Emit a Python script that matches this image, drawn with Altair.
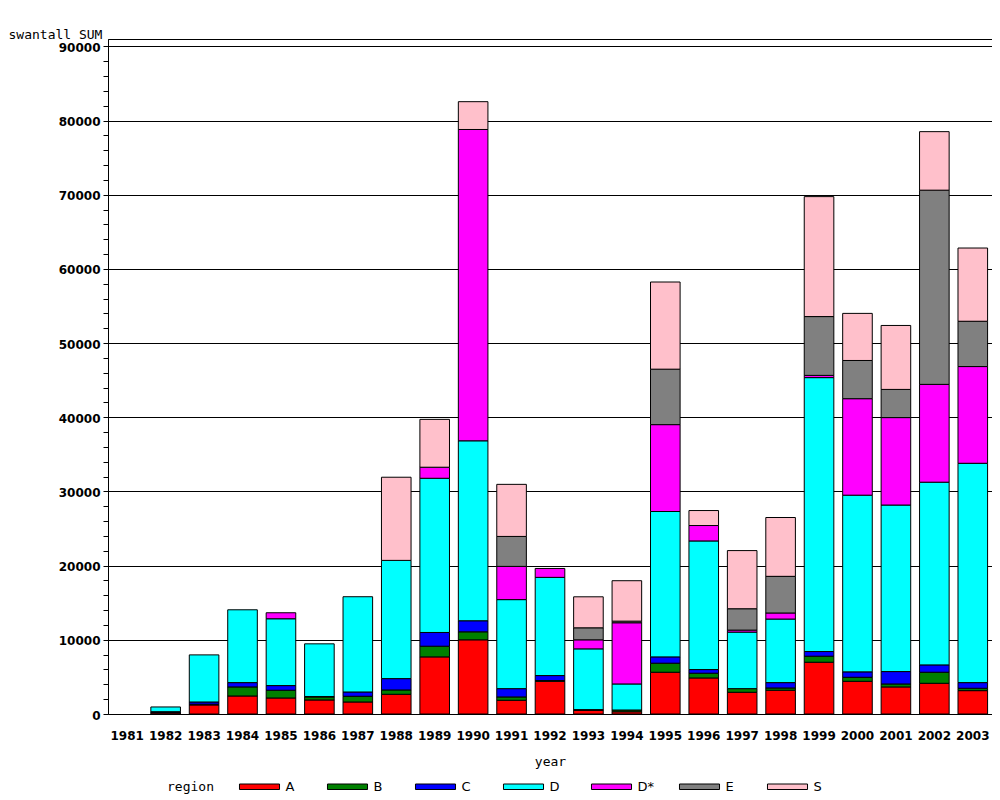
import altair as alt
import pandas as pd

years = [str(y) for y in range(1981, 2004)]
regions = ["A", "B", "C", "D", "D*", "E", "S"]
colors = ["#FF0000", "#008000", "#0000FF", "#00FFFF", "#FF00FF", "#808080", "#FFC0CB"]

#        1981 1982  1983  1984  1985  1986  1987  1988  1989   1990   1991  1992  1993  1994  1995   1996   1997  1998  1999   2000   2001   2002   2003
val_A = [0,   150,  1220, 2430, 2160, 1890, 1620, 2660, 7700,  10000, 1850, 4410, 500,  300,  5630,  4860,  2930, 3200, 6980,  4410,  3650,  4140,  3150]
val_B = [0,   80,   100,  1220, 1040, 410,  770,  580,  1440,  1080,  450,  100,  60,   240,  1220,  640,   490,  310,  810,   540,   400,   1490,  320]
val_C = [0,   80,   300,  580,  630,  60,   580,  1530, 1850,  1490,  1120, 670,  30,   0,    850,   490,   0,    720,  630,   730,   1670,  990,   760]
val_D = [0,   640,  6350, 9820, 9010, 7100, 12840, 15940, 20790, 24260, 12000, 13240, 8190, 3510, 19600, 17340, 7620, 8570, 36930, 23820, 22450, 24630, 29570]
val_Ds = [0,  0,    0,    0,    810,  0,    0,    0,    1490,  41970, 4480, 1200, 1220, 8250, 11710, 2080,  270,  820,  300,   13010, 11790, 13190, 13040]
val_E = [0,   0,    0,    0,    0,    0,    0,    0,    0,     0,     4040, 0,    1620, 220,  7480,  0,     2880, 4940, 7930,  5150,  3800,  26180, 6110]
val_S = [0,   0,    0,    0,    0,    0,    0,    11210, 6450, 3750,  7020, 0,    4180, 5450, 11750, 2020,  7840, 7930, 16170, 6350,  8620,  7890,  9870]

series = [val_A, val_B, val_C, val_D, val_Ds, val_E, val_S]
rows = []
for k, (reg, vals) in enumerate(zip(regions, series)):
    for yr, v in zip(years, vals):
        rows.append({"year": yr, "region": reg, "ord": k, "value": v})
df = pd.DataFrame(rows)

y_ticks = list(range(0, 90001, 2000))

chart = alt.Chart(df).transform_filter("datum.value > 0").mark_bar(
    stroke="black", strokeWidth=1
).encode(
    x=alt.X("year:N", sort=years,
            scale=alt.Scale(domain=years, paddingInner=0.23, paddingOuter=0.115),
            axis=alt.Axis(title="year", labelAngle=0, ticks=False, domain=False,
                          labelPadding=16, titlePadding=14,
                          labelFont="DejaVu Sans", labelFontWeight="bold", labelFontSize=12,
                          labelColor="black",
                          titleFont="DejaVu Sans Mono", titleFontSize=13, titleFontWeight="normal",
                          titleColor="black")),
    y=alt.Y("value:Q", stack="zero",
            scale=alt.Scale(domain=[0, 91000], nice=False, zero=True),
            axis=alt.Axis(title="swantall SUM", titleAngle=0, titleX=-100, titleY=-1,
                          titleAlign="left", titleBaseline="alphabetic",
                          titleFont="DejaVu Sans Mono", titleFontSize=13, titleFontWeight="normal",
                          titleColor="black",
                          values=y_ticks, format="d",
                          labelExpr="datum.value % 10000 === 0 ? datum.label : ''",
                          labelOverlap=False, labelFlush=False, labelOffset=1,
                          labelFont="DejaVu Sans", labelFontWeight="bold", labelFontSize=12,
                          labelColor="black", labelPadding=3,
                          tickColor="black", tickSize=5, tickWidth=1,
                          domainColor="black",
                          grid=True, gridColor="black", gridWidth=1,
                          gridOpacity={"condition": {"test": "datum.value % 10000 === 0 && datum.value > 0", "value": 1}, "value": 0})),
    color=alt.Color("region:N",
                    scale=alt.Scale(domain=regions, range=colors),
                    legend=alt.Legend(title="region", orient="none", legendX=59, legendY=741,
                                      direction="horizontal", titleOrient="left",
                                      titleAnchor="middle", titleBaseline="middle",
                                      titleFont="DejaVu Sans Mono", titleFontSize=13,
                                      titleFontWeight="normal", titleColor="black",
                                      titlePadding=39,
                                      symbolType="M-3.64,-0.5H3.64V0.5H-3.64Z", symbolSize=121,
                                      symbolStrokeColor="black", symbolStrokeWidth=1,
                                      symbolOpacity=1,
                                      labelFont="DejaVu Sans", labelFontSize=13, labelColor="black",
                                      labelOffset=19.5, columnPadding=22, gridAlign="all")),
    order=alt.Order("ord:Q", sort="ascending"),
).properties(
    width=884, height=675,
    padding={"left": 0, "top": 20, "right": 0, "bottom": 0},
    background="white",
).configure_view(stroke="black", strokeWidth=1)

chart.save("out.html", embed_options={"renderer": "svg", "actions": False})
